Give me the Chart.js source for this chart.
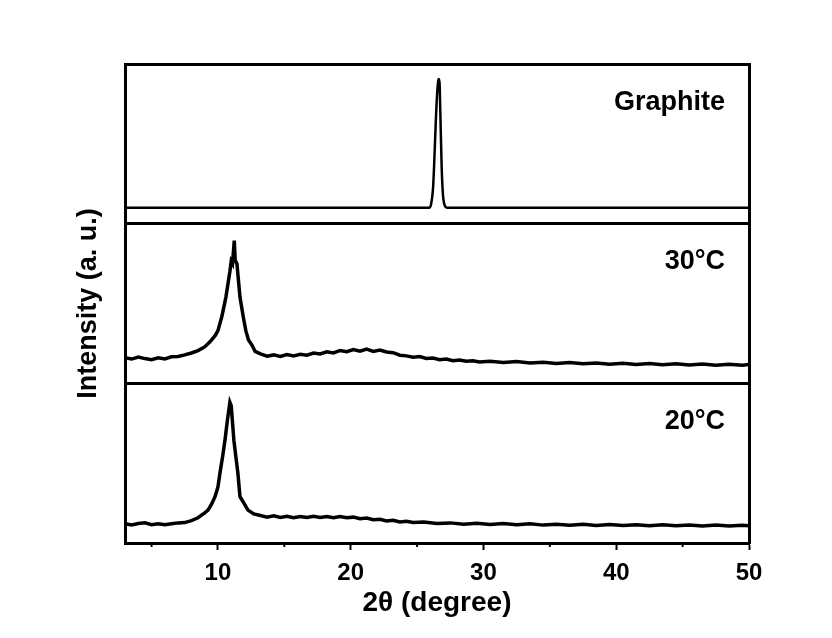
<!DOCTYPE html>
<html lang="en">
<head>
  <meta charset="UTF-8">
  <title>XRD patterns</title>
  <script src="https://cdn.jsdelivr.net/npm/chart.js"></script>
  <style>
    body { margin: 0; background: #fff; }
    canvas { display: block; }
  </style>
</head>
<body>
  <canvas id="xrd" width="832" height="638"></canvas>

  <script>
    // panel order bottom -> top, values are intensity inside each panel (0..1)
    const panelLabels = ['20\u00B0C', '30\u00B0C', 'Graphite'];

    const curve20 = [
      [3,0.12],[3.5,0.113],[4,0.122],[4.5,0.126],[5,0.115],[5.5,0.121],[6,0.114],[6.5,0.12],
      [7,0.126],[7.5,0.128],[8,0.14],[8.5,0.158],[9,0.188],[9.25,0.206],[9.5,0.24],[9.78,0.29],
      [10,0.35],[10.15,0.4375],[10.35,0.54],[10.53,0.644],[10.7,0.76],[10.9,0.881],[11,0.86],
      [11.2,0.644],[11.35,0.54],[11.5,0.44],[11.66,0.29],[11.9,0.258],[12.26,0.206],[12.7,0.182],
      [13.2,0.172],[13.7,0.162],[14.2,0.17],[14.7,0.16],[15.2,0.168],[15.7,0.158],[16.2,0.166],
      [16.7,0.16],[17.2,0.168],[17.7,0.16],[18.2,0.166],[18.7,0.158],[19.2,0.166],[19.7,0.158],
      [20.2,0.162],[20.7,0.152],[21.2,0.156],[21.7,0.146],[22.2,0.148],[22.7,0.138],[23.2,0.142],
      [23.7,0.132],[24.2,0.136],[24.7,0.128],[25.5,0.132],[26.5,0.122],[27.5,0.126],[28.5,0.118],
      [29.5,0.124],[30.5,0.116],[31.5,0.122],[32.5,0.114],[33.5,0.12],[34.5,0.112],[35.5,0.118],
      [36.5,0.111],[37.5,0.117],[38.5,0.11],[39.5,0.116],[40.5,0.109],[41.5,0.115],[42.5,0.108],
      [43.5,0.114],[44.5,0.108],[45.5,0.113],[46.5,0.107],[47.5,0.112],[48.5,0.106],[49.5,0.111],
      [50,0.108]
    ];

    const curve30 = [
      [3,0.16],[3.5,0.152],[4,0.165],[4.5,0.155],[5,0.148],[5.5,0.16],[6,0.153],[6.5,0.166],
      [7,0.168],[7.5,0.178],[8,0.19],[8.5,0.205],[9,0.228],[9.4,0.26],[9.8,0.3],[10,0.33],
      [10.3,0.42],[10.6,0.54],[10.9,0.7],[11,0.765],[11.1,0.75],[11.23,0.894],[11.3,0.77],
      [11.43,0.75],[11.55,0.64],[11.66,0.54],[11.9,0.42],[12.1,0.33],[12.3,0.272],[12.56,0.24],
      [12.8,0.2],[13.2,0.185],[13.7,0.17],[14.2,0.178],[14.7,0.168],[15.2,0.18],[15.7,0.172],
      [16.2,0.182],[16.7,0.176],[17.2,0.19],[17.7,0.184],[18.2,0.198],[18.7,0.19],[19.2,0.206],
      [19.7,0.198],[20.2,0.212],[20.7,0.202],[21.2,0.214],[21.7,0.2],[22.2,0.208],[22.7,0.196],
      [23.2,0.192],[23.7,0.176],[24.2,0.172],[24.7,0.164],[25.2,0.168],[25.7,0.156],[26.2,0.158],
      [26.7,0.148],[27.2,0.152],[27.7,0.142],[28.2,0.146],[28.7,0.138],[29.2,0.142],[29.7,0.134],
      [30.5,0.138],[31.5,0.13],[32.5,0.136],[33.5,0.128],[34.5,0.132],[35.5,0.124],[36.5,0.13],
      [37.5,0.122],[38.5,0.128],[39.5,0.12],[40.5,0.126],[41.5,0.118],[42.5,0.124],[43.5,0.117],
      [44.5,0.122],[45.5,0.115],[46.5,0.121],[47.5,0.114],[48.5,0.12],[49.5,0.113],[50,0.118]
    ];

    const curveGraphite = [
      [3,0.1],[10,0.1],[20,0.1],[25.9,0.1],[26.05,0.12],[26.2,0.22],[26.3,0.4],[26.4,0.62],
      [26.5,0.8],[26.6,0.9],[26.65,0.906],[26.7,0.87],[26.75,0.7],[26.85,0.36],[26.95,0.18],
      [27.1,0.11],[27.25,0.1],[35,0.1],[50,0.1]
    ];

    const xMin = 3, xMax = 50;
    const majorTicks = [10, 20, 30, 40, 50];
    const minorTicks = [5, 15, 25, 35, 45];
    const labelAt = 48.2;     // 2theta where the panel labels end
    const labelHeight = 0.76; // height inside panel

    const curves = [curve20, curve30, curveGraphite];
    const FONT = '"Liberation Sans", Arial, sans-serif';

    // shift each curve up into its own panel
    const datasets = curves.map((c, i) => ({
      label: panelLabels[i],
      data: c.map(p => ({ x: p[0], y: i + p[1] })),
      borderColor: '#000',
      borderWidth: i === 2 ? 2.5 : 3.5,
      pointRadius: 0,
      fill: false,
      tension: 0,
      cubicInterpolationMode: i === 2 ? 'monotone' : 'default'
    }));

    const panelText = {
      id: 'panelText',
      afterDraw(chart) {
        const ctx = chart.ctx;
        const xs = chart.scales.x, ys = chart.scales.y;
        ctx.save();
        // minor ticks
        ctx.strokeStyle = '#000';
        ctx.lineWidth = 2;
        minorTicks.forEach(v => {
          const px = xs.getPixelForValue(v);
          ctx.beginPath();
          ctx.moveTo(px, ys.bottom);
          ctx.lineTo(px, ys.bottom + 4);
          ctx.stroke();
        });
        ctx.fillStyle = '#000';
        ctx.font = 'bold 27px ' + FONT;
        ctx.textAlign = 'right';
        ctx.textBaseline = 'middle';
        panelLabels.forEach((t, i) => {
          ctx.fillText(t, xs.getPixelForValue(labelAt), ys.getPixelForValue(i + labelHeight));
        });
        ctx.restore();
      }
    };

    new Chart(document.getElementById('xrd'), {
      type: 'line',
      data: { datasets: datasets },
      options: {
        responsive: false,
        animation: false,
        layout: { padding: { left: 0, top: 64, right: 83, bottom: 0 } },
        plugins: { legend: { display: false }, tooltip: { enabled: false } },
        scales: {
          x: {
            type: 'linear',
            min: xMin,
            max: xMax,
            afterBuildTicks: s => { s.ticks = majorTicks.map(v => ({ value: v })); },
            afterFit: s => { s.height = 95; },
            grid: { drawOnChartArea: false, tickLength: 7, tickColor: '#000', tickWidth: 2 },
            border: { color: '#000', width: 3 },
            ticks: {
              color: '#000',
              padding: 9,
              maxRotation: 0,
              font: { family: FONT, size: 24, weight: 'bold' }
            },
            title: {
              display: true,
              text: '2\u03B8 (degree)',
              color: '#000',
              padding: { top: 0, bottom: 18 },
              font: { family: FONT, size: 28, weight: 'bold' }
            }
          },
          y: {
            min: 0,
            max: 3,
            afterBuildTicks: s => { s.ticks = [0, 1, 2, 3].map(v => ({ value: v })); },
            afterFit: s => { s.width = 125; },
            grid: { color: '#000', lineWidth: 3, drawTicks: false },
            border: { color: '#000', width: 3 },
            ticks: { display: false },
            title: {
              display: true,
              text: 'Intensity (a. u.)',
              color: '#000',
              padding: { top: 72, bottom: 0 },
              font: { family: FONT, size: 27, weight: 'bold' }
            }
          },
          yRight: {
            position: 'right',
            min: 0,
            max: 3,
            afterFit: s => { s.width = 0; },
            grid: { display: false, drawTicks: false },
            border: { color: '#000', width: 3 },
            ticks: { display: false }
          }
        }
      },
      plugins: [panelText]
    });
  </script>
</body>
</html>
